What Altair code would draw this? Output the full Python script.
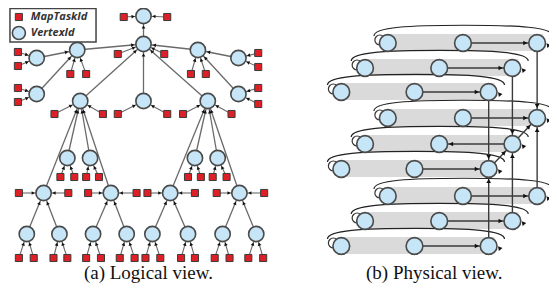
import math
import altair as alt
import pandas as pd

W, H = 541, 277
XS = alt.Scale(domain=[6, 553], nice=False, zero=False)
YS = alt.Scale(domain=[7, 284], nice=False, zero=False, reverse=True)

# ---------------- (a) Logical view ----------------
v_name = ["top", "hub", "l1a", "l1b", "fl1", "fl2", "fr1", "fr2", "l2a", "l2b", "l2c",
          "l3a", "l3b", "l3c", "l3d", "l4a", "l4b", "l4c", "l4d",
          "l5a", "l5b", "l5c", "l5d", "l5e", "l5f", "l5g", "l5h"]
v_x = [143, 143, 76, 198, 35, 35, 239, 239, 79, 143, 208,
       66, 89, 195, 218, 42, 110, 170, 240,
       25, 58, 92, 126, 152, 188, 223, 257]
v_y = [15, 43, 49, 49, 57, 93, 57, 93, 100, 100, 100,
       157, 157, 157, 157, 192, 192, 192, 192,
       233, 233, 233, 233, 233, 233, 233, 233]

e_src = ["fl1", "fl2", "l1a", "l1b", "fr1", "fr2", "hub", "l2a", "l2b", "l2c",
         "l3a", "l3b", "l4a", "l4b", "l3c", "l3d", "l4c", "l4d",
         "l5a", "l5b", "l5c", "l5d", "l5e", "l5f", "l5g", "l5h"]
e_dst = ["l1a", "l1a", "hub", "hub", "l1b", "l1b", "top", "hub", "hub", "hub",
         "l2a", "l2a", "l2a", "l2a", "l2c", "l2c", "l2c", "l2c",
         "l4a", "l4a", "l4b", "l4b", "l4c", "l4c", "l4d", "l4d"]

sq_x = [123, 167, 117, 164, 69, 85, 191, 206, 16, 16, 16, 16, 259, 259, 259, 259,
        53, 102, 117, 167, 183, 232,
        59, 73, 85, 98, 188, 201, 213, 227,
        17, 67, 87, 136, 147, 195, 217, 265,
        17, 32, 52, 66, 85, 100, 119, 134, 145, 160, 181, 195, 215, 230, 249, 264]
sq_y = [16, 16, 53, 53, 73, 73, 73, 73, 51, 65, 87, 101, 52, 66, 87, 103,
        113, 113, 113, 113, 113, 113,
        176, 176, 176, 176, 176, 176, 176, 176,
        192, 192, 192, 192, 192, 192, 192, 192,
        257, 257, 257, 257, 257, 257, 257, 257, 257, 257, 257, 257, 257, 257, 257, 257]
sq_dst = ["top", "top", "hub", "hub", "l1a", "l1a", "l1b", "l1b", "fl1", "fl1", "fl2", "fl2",
          "fr1", "fr1", "fr2", "fr2",
          "l2a", "l2a", "l2b", "l2b", "l2c", "l2c",
          "l3a", "l3a", "l3b", "l3b", "l3c", "l3c", "l3d", "l3d",
          "l4a", "l4a", "l4b", "l4b", "l4c", "l4c", "l4d", "l4d",
          "l5a", "l5a", "l5b", "l5b", "l5c", "l5c", "l5d", "l5d",
          "l5e", "l5e", "l5f", "l5f", "l5g", "l5g", "l5h", "l5h"]

legend_labels = ["MapTaskId", "VertexId"]
legend_y = [16, 32]

# ---------------- (b) Physical view ----------------
ph_row_y = [42, 67, 91, 117, 143, 168, 195, 220, 245]
ph_left_x = [390, 367, 343, 390, 367, 343, 390, 367, 343]
ph_mid_x = [466, 442, 417, 466, 442, 417, 466, 442, 417]
ph_right_x = [541, 516, 492, 541, 516, 492, 541, 516, 492]
ph_flow_to_right = [True, True, True, True, False, True, True, True, True]
# links between the right-hand vertices of rows (source row -> target row)
ph_link_src = [0, 1, 2, 6, 7, 8, 5, 4]
ph_link_dst = [3, 4, 5, 3, 4, 5, 4, 3]

captions = ["(a) Logical view.", "(b) Physical view."]
caption_x = [148, 437]
caption_y = [272, 272]


def head(sx, sy, tx, ty, gap):
    dx, dy = tx - sx, ty - sy
    L = math.hypot(dx, dy)
    ux, uy = dx / L, dy / L
    ang = math.degrees(math.atan2(dx, -dy)) % 360
    return tx - ux * gap, ty - uy * gap, ang


pos = dict(zip(v_name, zip(v_x, v_y)))

edges = []
heads = []
for s, d in zip(e_src, e_dst):
    (sx, sy), (tx, ty) = pos[s], pos[d]
    edges.append(dict(x=sx, y=sy, x2=tx, y2=ty))
    hx, hy, a = head(sx, sy, tx, ty, 11)
    heads.append(dict(x=hx, y=hy, ang=a))
sq_edges = []
for sx, sy, d in zip(sq_x, sq_y, sq_dst):
    tx, ty = pos[d]
    sq_edges.append(dict(x=sx, y=sy, x2=tx, y2=ty))
    hx, hy, a = head(sx, sy, tx, ty, 10.5)
    heads.append(dict(x=hx, y=hy, ang=a))

nodes_df = pd.DataFrame(dict(x=v_x, y=v_y))
sq_df = pd.DataFrame(dict(x=sq_x, y=sq_y))
edges_df = pd.DataFrame(edges)
sq_edges_df = pd.DataFrame(sq_edges)

# physical
ph_nodes, bands, arcs, loops, ph_lines, ph_heads, rhooks = [], [], [], [], [], [], []
for i, y in enumerate(ph_row_y):
    lx, mx, rx = ph_left_x[i], ph_mid_x[i], ph_right_x[i]
    for xx in (lx, mx, rx):
        ph_nodes.append(dict(x=xx, y=y))
    bands.append(dict(x=lx, x2=rx + 6, y=y - 9, y2=y + 8))
    a0, a1 = lx - 13, rx + 15
    arcs.append(dict(x=(a0 + a1) / 2, y=y - 7, sz=(a1 - a0) ** 2))
    loops.append(dict(x=lx - 8, y=y - 3))
    rhooks.append(dict(x=rx + 11, y=y + 3, ang=200))
    if ph_flow_to_right[i]:
        sx, tx = mx, rx
    else:
        sx, tx = rx, mx
    ph_lines.append(dict(x=sx, y=y, x2=tx, y2=y))
    hx, hy, a = head(sx, y, tx, y, 12)
    ph_heads.append(dict(x=hx, y=hy, ang=a))
for s, d in zip(ph_link_src, ph_link_dst):
    sx, sy = ph_right_x[s], ph_row_y[s]
    tx, ty = ph_right_x[d], ph_row_y[d]
    ph_lines.append(dict(x=sx, y=sy, x2=tx, y2=ty))
    hx, hy, a = head(sx, sy, tx, ty, 12)
    ph_heads.append(dict(x=hx, y=hy, ang=a))
ph_heads += rhooks

X = alt.X("x:Q", scale=XS, axis=None)
Y = alt.Y("y:Q", scale=YS, axis=None)
X2 = alt.X2("x2:Q")
Y2 = alt.Y2("y2:Q")
ANG = alt.Angle("ang:Q", scale=None)

layers = []

# legend box
leg_box = alt.Chart(pd.DataFrame([dict(x=8, x2=95, y=7.5, y2=41)])).mark_rect(
    fill="white", stroke="#444444", strokeWidth=1.5).encode(x=X, x2=X2, y=Y, y2=Y2)
layers.append(leg_box)

layers.append(alt.Chart(edges_df).mark_rule(color="#6a6a6a", strokeWidth=1.3).encode(
    x=X, y=Y, x2=X2, y2=Y2))
layers.append(alt.Chart(sq_edges_df).mark_rule(color="#6a6a6a", strokeWidth=1.1).encode(
    x=X, y=Y, x2=X2, y2=Y2))

# physical bands, arcs, loops
layers.append(alt.Chart(pd.DataFrame(bands)).mark_rect(color="#d6d6d6", opacity=0.9).encode(
    x=X, x2=X2, y=Y, y2=Y2))
arc_path = "M -1 0 C -1 -0.1 -0.6 -0.12 0 -0.12 C 0.6 -0.12 1 -0.1 1 0"
layers.append(alt.Chart(pd.DataFrame(arcs)).mark_point(
    shape=arc_path, filled=False, stroke="#222222", strokeWidth=1.2, opacity=1).encode(
    x=X, y=Y, size=alt.Size("sz:Q", scale=None)))
layers.append(alt.Chart(pd.DataFrame(loops)).mark_point(
    shape="circle", filled=False, stroke="#333333", strokeWidth=1.2, opacity=1, size=100).encode(
    x=X, y=Y))
layers.append(alt.Chart(pd.DataFrame(ph_lines)).mark_rule(color="#3a3a3a", strokeWidth=1.4).encode(
    x=X, y=Y, x2=X2, y2=Y2))

# nodes
node_style = dict(shape="circle", filled=True, fill="#c6e5f7", stroke="#4a4a4a",
                  strokeWidth=1.6, opacity=1)
layers.append(alt.Chart(nodes_df).mark_point(size=235, **node_style).encode(x=X, y=Y))
layers.append(alt.Chart(pd.DataFrame(ph_nodes)).mark_point(size=280, **node_style).encode(x=X, y=Y))
layers.append(alt.Chart(sq_df).mark_square(
    size=50, fill="#de1f26", stroke="#3a3a3a", strokeWidth=1, opacity=1).encode(x=X, y=Y))

# arrow heads
layers.append(alt.Chart(pd.DataFrame(heads)).mark_point(
    shape="triangle-up", filled=True, color="#111111", size=14, opacity=1).encode(
    x=X, y=Y, angle=ANG))
layers.append(alt.Chart(pd.DataFrame(ph_heads)).mark_point(
    shape="triangle-up", filled=True, color="#111111", size=22, opacity=1).encode(
    x=X, y=Y, angle=ANG))

# legend symbols & labels
leg_df = pd.DataFrame(dict(x=[17, 17], y=legend_y, tx=[29, 29], label=legend_labels))
layers.append(alt.Chart(leg_df.iloc[[0]]).mark_square(
    size=50, fill="#de1f26", stroke="#3a3a3a", strokeWidth=1, opacity=1).encode(x=X, y=Y))
layers.append(alt.Chart(leg_df.iloc[[1]]).mark_point(size=170, **node_style).encode(x=X, y=Y))
layers.append(alt.Chart(leg_df).mark_text(
    align="left", baseline="middle", font="Open Sans", fontStyle="italic",
    fontWeight="bold", fontSize=11, color="#333333").encode(
    x=alt.X("tx:Q", scale=XS, axis=None), y=Y, text="label:N"))

# captions
cap_df = pd.DataFrame(dict(x=caption_x, y=caption_y, label=captions))
layers.append(alt.Chart(cap_df).mark_text(
    align="center", baseline="middle", font="Liberation Serif", fontSize=19,
    color="#111111").encode(x=X, y=Y, text="label:N"))

chart = alt.layer(*layers).properties(
    width=W, height=H, padding=0, autosize=alt.AutoSizeParams(type="none"),
    background="white"
).configure_view(stroke=None)

chart.save("out.html", embed_options={"renderer": "svg", "actions": False})
